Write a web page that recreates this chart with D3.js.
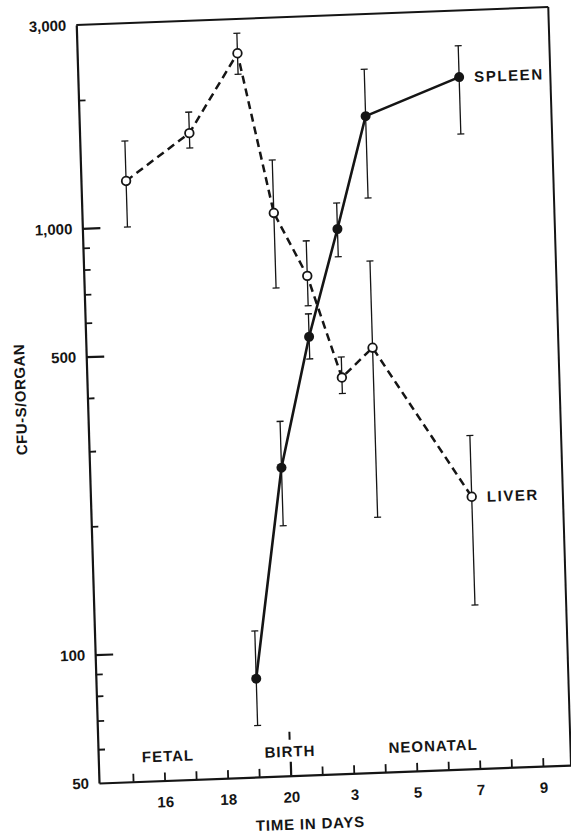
<!DOCTYPE html>
<html><head><meta charset="utf-8">
<script src="https://cdn.jsdelivr.net/npm/d3@7"></script>
<style>html,body{margin:0;padding:0;background:#fff}svg{display:block}</style>
</head><body><svg id="c" width="571" height="836"></svg>
<script>
// ---------- data ----------
const xTickDays = [15,16,17,18,19,20,21,22,23,24,25,26,27,28];
const xLabelDays = [16,18,20,22,24,26,28];
const xLabelTexts = ["16","18","20","3","5","7","9"];
const birthDay = 20;

const yTickValues = [50,60,70,80,90,100,200,300,400,500,600,700,800,900,1000,2000,3000];
const yMajorValues = [100,500,1000];
const yLabelValues = [50,100,500,1000,3000];
const yLabelTexts = ["50","100","500","1,000","3,000"];

const phaseLabels = ["FETAL","BIRTH","NEONATAL"];
const phaseDays = [16.13,20,24.54];

const spleenDays   = [19,20,21,22,23,26];
const spleenValues = [85,264,532,946,1729,2094];
const spleenLow    = [66,193,472,814,1111,1540];
const spleenHigh   = [110,339,602,1089,2228,2480];

const liverDays   = [15.35,17.4,19,20,21,22,23,26];
const liverValues = [1280,1636,2492,1045,739,424,495,217];
const liverLow    = [998,1509,2226,697,629,389,198,121];
const liverHigh   = [1588,1832,2776,1391,893,474,791,302];

const seriesNames = ["SPLEEN","LIVER"];
const xTitle = "TIME IN DAYS";
const yTitle = "CFU-S/ORGAN";

// ---------- layout ----------
const margin = {left:99, top:25};
const iw = 472, ih = 758;
const ink = "#151515";
const font = "'Liberation Sans', Arial, sans-serif";

const svg = d3.select("#c");
// slight skew/rotation of the scanned original
const outer = svg.append("g").attr("transform","matrix(1,-0.038,0.030,1,-23.49,3.762)");
const g = outer.append("g").attr("transform",`translate(${margin.left},${margin.top})`);

const x = d3.scaleLinear().domain([13.92,28.89]).range([0,iw]);
const y = d3.scaleLog().domain([50,3000]).range([ih,0]);

// ---------- axes ----------
const xAxis = d3.axisBottom(x).tickValues(xTickDays).tickSizeInner(-8).tickSizeOuter(0).tickPadding(16)
  .tickFormat(d => { const i = xLabelDays.indexOf(d); return i >= 0 ? xLabelTexts[i] : ""; });
const gx = g.append("g").attr("transform",`translate(0,${ih})`).call(xAxis);
gx.select(".domain").attr("stroke",ink).attr("stroke-width",2.2);
gx.selectAll(".tick line").attr("stroke",ink).attr("stroke-width",1.8);
gx.selectAll(".tick").filter(d => d === birthDay).select("line").attr("y2",-14).attr("stroke-width",2.2);
gx.selectAll(".tick text").attr("fill",ink).attr("font-family",font).attr("font-weight","bold").attr("font-size",15);

const yAxis = d3.axisLeft(y).tickValues(yTickValues).tickSizeInner(-7).tickSizeOuter(0).tickPadding(10)
  .tickFormat(d => { const i = yLabelValues.indexOf(d); return i >= 0 ? yLabelTexts[i] : ""; });
const gy = g.append("g").call(yAxis);
gy.select(".domain").attr("stroke",ink).attr("stroke-width",2.2);
gy.selectAll(".tick line").attr("stroke",ink).attr("stroke-width",1.8);
gy.selectAll(".tick").filter(d => yMajorValues.includes(d)).select("line").attr("x2",18).attr("stroke-width",2.2);
gy.selectAll(".tick").filter(d => d === 50 || d === 3000).select("line").remove();
gy.selectAll(".tick text").attr("fill",ink).attr("font-family",font).attr("font-weight","bold").attr("font-size",15);

// frame (top & right)
g.append("line").attr("x1",0).attr("x2",iw).attr("y1",0).attr("y2",0).attr("stroke",ink).attr("stroke-width",2);
g.append("line").attr("x1",iw).attr("x2",iw).attr("y1",0).attr("y2",ih).attr("stroke",ink).attr("stroke-width",2);

// ---------- series ----------
const spleen = spleenDays.map((d,i) => ({day:d, v:spleenValues[i], lo:spleenLow[i], hi:spleenHigh[i]}));
const liver  = liverDays.map((d,i) => ({day:d, v:liverValues[i], lo:liverLow[i], hi:liverHigh[i]}));

function errorBars(data){
  const eg = g.append("g").attr("stroke",ink).attr("stroke-width",1.3);
  eg.selectAll(".v").data(data).join("line")
    .attr("x1",d=>x(d.day)).attr("x2",d=>x(d.day)).attr("y1",d=>y(d.lo)).attr("y2",d=>y(d.hi));
  eg.selectAll(".t").data(data).join("line")
    .attr("x1",d=>x(d.day)-3.5).attr("x2",d=>x(d.day)+3.5).attr("y1",d=>y(d.hi)).attr("y2",d=>y(d.hi));
  eg.selectAll(".b").data(data).join("line")
    .attr("x1",d=>x(d.day)-3.5).attr("x2",d=>x(d.day)+3.5).attr("y1",d=>y(d.lo)).attr("y2",d=>y(d.lo));
}
errorBars(liver);
errorBars(spleen);

const line = d3.line().x(d=>x(d.day)).y(d=>y(d.v));
g.append("path").datum(liver).attr("d",line).attr("fill","none").attr("stroke",ink)
  .attr("stroke-width",2.5).attr("stroke-dasharray","8,5");
g.append("path").datum(spleen).attr("d",line).attr("fill","none").attr("stroke",ink)
  .attr("stroke-width",2.6);

g.selectAll(".lv").data(liver).join("circle")
  .attr("cx",d=>x(d.day)).attr("cy",d=>y(d.v)).attr("r",4.3)
  .attr("fill","#fff").attr("stroke",ink).attr("stroke-width",1.8);
g.selectAll(".sp").data(spleen).join("circle")
  .attr("cx",d=>x(d.day)).attr("cy",d=>y(d.v)).attr("r",5)
  .attr("fill",ink);

// series labels
const lastS = spleen[spleen.length-1], lastL = liver[liver.length-1];
const txt = (sel) => sel.attr("fill",ink).attr("font-family",font).attr("font-weight","bold").attr("font-size",15);
g.append("text").call(txt).attr("x",x(lastS.day)+15).attr("y",y(lastS.v)+5.5).attr("letter-spacing",1.6).text(seriesNames[0]);
g.append("text").call(txt).attr("x",x(lastL.day)+15).attr("y",y(lastL.v)+5.5).attr("letter-spacing",1.6).text(seriesNames[1]);

// phase labels
g.selectAll(".ph").data(phaseLabels).join("text").call(txt)
  .attr("x",(d,i)=>x(phaseDays[i])).attr("y",ih-19).attr("text-anchor","middle").attr("letter-spacing",1)
  .text(d=>d);
g.append("line").attr("x1",x(birthDay)).attr("x2",x(birthDay)).attr("y1",ih-44).attr("y2",ih-36)
  .attr("stroke",ink).attr("stroke-width",2);

// axis titles
g.append("text").call(txt).attr("x",210).attr("y",ih+54).attr("text-anchor","middle").attr("letter-spacing",0.8).text(xTitle);
g.append("text").call(txt).attr("transform",`translate(-67,372) rotate(-90)`).attr("dy","0.35em")
  .attr("text-anchor","middle").attr("letter-spacing",0.5).text(yTitle);
</script></body></html>
